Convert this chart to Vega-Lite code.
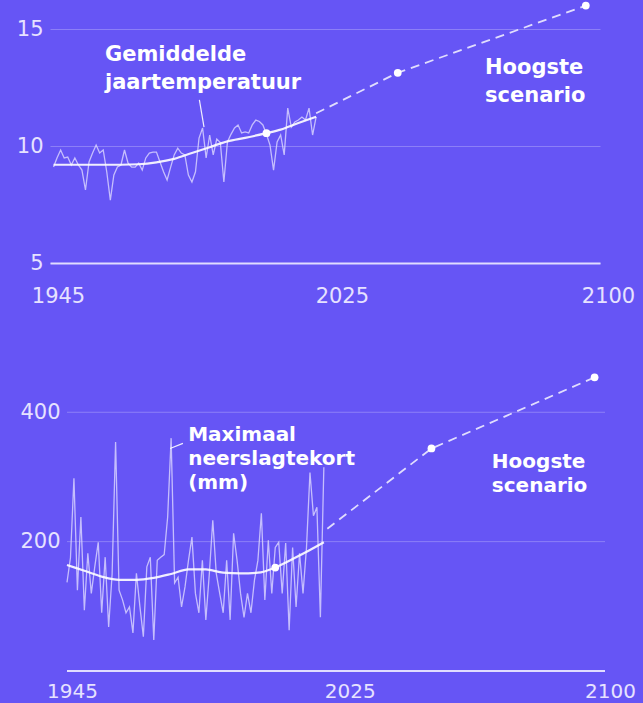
{
  "$schema": "https://vega.github.io/schema/vega-lite/v6.json",
  "background": "#6655f5",
  "padding": {"left": 0, "top": 0, "right": 12, "bottom": 12},
  "config": {
    "view": {"stroke": null},
    "axis": {
      "labelFont": "DejaVu Sans",
      "labelFontSize": 21,
      "labelColor": "#e6e2ff",
      "ticks": false,
      "gridColor": "#ffffff",
      "gridOpacity": 0.25,
      "gridWidth": 1,
      "domainColor": "#e0dcff",
      "domainWidth": 2
    }
  },
  "datasets": {
    "temp": [
      {"year": 1946, "value": 9.1}, {"year": 1947, "value": 9.5}, {"year": 1948, "value": 9.83}, {"year": 1949, "value": 9.49},
      {"year": 1950, "value": 9.53}, {"year": 1951, "value": 9.19}, {"year": 1952, "value": 9.49}, {"year": 1953, "value": 9.19},
      {"year": 1954, "value": 8.97}, {"year": 1955, "value": 8.12}, {"year": 1956, "value": 9.32}, {"year": 1957, "value": 9.7},
      {"year": 1958, "value": 10.04}, {"year": 1959, "value": 9.7}, {"year": 1960, "value": 9.83}, {"year": 1961, "value": 8.89},
      {"year": 1962, "value": 7.69}, {"year": 1963, "value": 8.76}, {"year": 1964, "value": 9.1}, {"year": 1965, "value": 9.19},
      {"year": 1966, "value": 9.83}, {"year": 1967, "value": 9.27}, {"year": 1968, "value": 9.1}, {"year": 1969, "value": 9.1},
      {"year": 1970, "value": 9.27}, {"year": 1971, "value": 8.97}, {"year": 1972, "value": 9.49}, {"year": 1973, "value": 9.7},
      {"year": 1974, "value": 9.74}, {"year": 1975, "value": 9.74}, {"year": 1976, "value": 9.32}, {"year": 1977, "value": 8.9},
      {"year": 1978, "value": 8.55}, {"year": 1979, "value": 9.1}, {"year": 1980, "value": 9.62}, {"year": 1981, "value": 9.91},
      {"year": 1982, "value": 9.7}, {"year": 1983, "value": 9.62}, {"year": 1984, "value": 8.76}, {"year": 1985, "value": 8.46},
      {"year": 1986, "value": 8.9}, {"year": 1987, "value": 10.34}, {"year": 1988, "value": 10.77}, {"year": 1989, "value": 9.49},
      {"year": 1990, "value": 10.47}, {"year": 1991, "value": 9.62}, {"year": 1992, "value": 10.3}, {"year": 1993, "value": 10.15},
      {"year": 1994, "value": 8.46}, {"year": 1995, "value": 10.17}, {"year": 1996, "value": 10.5}, {"year": 1997, "value": 10.77},
      {"year": 1998, "value": 10.9}, {"year": 1999, "value": 10.56}, {"year": 2000, "value": 10.6}, {"year": 2001, "value": 10.56},
      {"year": 2002, "value": 10.9}, {"year": 2003, "value": 11.11}, {"year": 2004, "value": 11.05}, {"year": 2005, "value": 10.9},
      {"year": 2006, "value": 10.5}, {"year": 2007, "value": 10.04}, {"year": 2008, "value": 8.97}, {"year": 2009, "value": 10.17},
      {"year": 2010, "value": 10.47}, {"year": 2011, "value": 9.62}, {"year": 2012, "value": 11.62}, {"year": 2013, "value": 10.81},
      {"year": 2014, "value": 11.03}, {"year": 2015, "value": 11.11}, {"year": 2016, "value": 11.24}, {"year": 2017, "value": 11.11},
      {"year": 2018, "value": 11.62}, {"year": 2019, "value": 10.47}, {"year": 2020, "value": 11.24}
    ],
    "tempSmooth": [
      {"year": 1946, "value": 9.2}, {"year": 1955, "value": 9.2}, {"year": 1965, "value": 9.2}, {"year": 1970, "value": 9.22},
      {"year": 1975, "value": 9.3}, {"year": 1980, "value": 9.45}, {"year": 1985, "value": 9.7}, {"year": 1990, "value": 9.95},
      {"year": 1995, "value": 10.2}, {"year": 2000, "value": 10.35}, {"year": 2006, "value": 10.55}, {"year": 2010, "value": 10.7},
      {"year": 2015, "value": 10.98}, {"year": 2020, "value": 11.25}
    ],
    "tempProj": [
      {"year": 2020, "value": 11.4}, {"year": 2043, "value": 13.13}, {"year": 2096, "value": 16.0}
    ],
    "tempDots": [
      {"year": 2006, "value": 10.55}, {"year": 2043, "value": 13.13}, {"year": 2096, "value": 16.0}
    ],
    "tempLabels": [
      {"label": "Gemiddelde|jaartemperatuur", "year": 1960.5, "value": 14.36},
      {"label": "Hoogste|scenario", "year": 2067.6, "value": 13.8}
    ],
    "tempLeader": [
      {"year": 1987.1, "value": 11.97, "year2": 1988.4, "value2": 10.81}
    ],
    "drought": [
      {"year": 1945, "value": 137}, {"year": 1946, "value": 175}, {"year": 1947, "value": 298}, {"year": 1948, "value": 125},
      {"year": 1949, "value": 238}, {"year": 1950, "value": 94}, {"year": 1951, "value": 182}, {"year": 1952, "value": 120},
      {"year": 1953, "value": 161}, {"year": 1954, "value": 199}, {"year": 1955, "value": 90}, {"year": 1956, "value": 176},
      {"year": 1957, "value": 68}, {"year": 1958, "value": 150}, {"year": 1959, "value": 354}, {"year": 1960, "value": 125},
      {"year": 1961, "value": 110}, {"year": 1962, "value": 90}, {"year": 1963, "value": 99}, {"year": 1964, "value": 59},
      {"year": 1965, "value": 151}, {"year": 1966, "value": 100}, {"year": 1967, "value": 53}, {"year": 1968, "value": 161},
      {"year": 1969, "value": 176}, {"year": 1970, "value": 48}, {"year": 1971, "value": 171}, {"year": 1972, "value": 176},
      {"year": 1973, "value": 180}, {"year": 1974, "value": 238}, {"year": 1975, "value": 360}, {"year": 1976, "value": 136},
      {"year": 1977, "value": 145}, {"year": 1978, "value": 99}, {"year": 1979, "value": 130}, {"year": 1980, "value": 171},
      {"year": 1981, "value": 207}, {"year": 1982, "value": 120}, {"year": 1983, "value": 90}, {"year": 1984, "value": 171},
      {"year": 1985, "value": 79}, {"year": 1986, "value": 150}, {"year": 1987, "value": 233}, {"year": 1988, "value": 151},
      {"year": 1989, "value": 120}, {"year": 1990, "value": 90}, {"year": 1991, "value": 171}, {"year": 1992, "value": 79},
      {"year": 1993, "value": 213}, {"year": 1994, "value": 171}, {"year": 1995, "value": 120}, {"year": 1996, "value": 83},
      {"year": 1997, "value": 120}, {"year": 1998, "value": 90}, {"year": 1999, "value": 140}, {"year": 2000, "value": 171},
      {"year": 2001, "value": 244}, {"year": 2002, "value": 110}, {"year": 2003, "value": 202}, {"year": 2004, "value": 120},
      {"year": 2005, "value": 191}, {"year": 2006, "value": 199}, {"year": 2007, "value": 120}, {"year": 2008, "value": 198},
      {"year": 2009, "value": 63}, {"year": 2010, "value": 191}, {"year": 2011, "value": 99}, {"year": 2012, "value": 182},
      {"year": 2013, "value": 120}, {"year": 2014, "value": 191}, {"year": 2015, "value": 307}, {"year": 2016, "value": 240},
      {"year": 2017, "value": 253}, {"year": 2018, "value": 83}, {"year": 2019, "value": 315}
    ],
    "droughtSmooth": [
      {"year": 1945, "value": 164}, {"year": 1950, "value": 155}, {"year": 1955, "value": 146}, {"year": 1960, "value": 141},
      {"year": 1965, "value": 141}, {"year": 1970, "value": 144}, {"year": 1975, "value": 150}, {"year": 1980, "value": 157},
      {"year": 1985, "value": 157}, {"year": 1990, "value": 152}, {"year": 1995, "value": 151}, {"year": 2000, "value": 152},
      {"year": 2005, "value": 160}, {"year": 2010, "value": 173}, {"year": 2015, "value": 187}, {"year": 2019, "value": 199}
    ],
    "droughtProj": [
      {"year": 2020, "value": 220}, {"year": 2050, "value": 344}, {"year": 2097, "value": 454}
    ],
    "droughtDots": [
      {"year": 2005, "value": 160}, {"year": 2050, "value": 344}, {"year": 2097, "value": 454}
    ],
    "droughtLabels": [
      {"label": "Maximaal|neerslagtekort|(mm)", "year": 1979.9, "value": 380},
      {"label": "Hoogste|scenario", "year": 2067.4, "value": 338}
    ],
    "droughtLeader": [
      {"year": 1974.7, "value": 344, "year2": 1978.4, "value2": 352}
    ],
    "droughtGrid": [
      {"year": 1945, "year2": 2100, "value": 200}, {"year": 1945, "year2": 2100, "value": 400}
    ],
    "droughtBase": [
      {"year": 1945, "year2": 2100, "value": 0}
    ]
  },
  "concat": [
    {
      "width": 550,
      "height": 263,
      "encoding": {
        "x": {"field": "year", "type": "quantitative", "title": null,
          "scale": {"domain": [1945, 2100], "nice": false, "zero": false},
          "axis": {"values": [1945, 2025, 2100], "format": "d", "grid": false, "domain": true, "labelPadding": 22, "labelOffset": 8, "labelFlush": false, "labelOverlap": false, "labelBound": false}},
        "y": {"field": "value", "type": "quantitative", "title": null,
          "scale": {"domain": [5, 16.24], "nice": false, "zero": false},
          "axis": {"values": [5, 10, 15], "grid": true, "domain": false, "labelPadding": 7, "minExtent": 50}}
      },
      "layer": [
        {
          "data": {"name": "temp"},
          "mark": {"type": "line", "stroke": "#ddd8ff", "strokeWidth": 1.3, "strokeOpacity": 0.8}
        },
        {
          "data": {"name": "tempSmooth"},
          "mark": {"type": "line", "stroke": "#ffffff", "strokeWidth": 2.2, "strokeOpacity": 0.9, "interpolate": "monotone"}
        },
        {
          "data": {"name": "tempProj"},
          "mark": {"type": "line", "stroke": "#ffffff", "strokeWidth": 1.8, "strokeOpacity": 0.8, "strokeDash": [9, 6]}
        },
        {
          "data": {"name": "tempDots"},
          "mark": {"type": "circle", "color": "#ffffff", "opacity": 1, "size": 60}
        },
        {
          "data": {"name": "tempLeader"},
          "mark": {"type": "rule", "color": "#ffffff", "strokeWidth": 1.2, "opacity": 0.9},
          "encoding": {
            "x2": {"field": "year2"},
            "y2": {"field": "value2"}
          }
        },
        {
          "data": {"name": "tempLabels"},
          "mark": {"type": "text", "font": "DejaVu Sans", "fontWeight": "bold", "fontSize": 21, "color": "#ffffff", "align": "left", "baseline": "top", "lineBreak": "|", "lineHeight": 28},
          "encoding": {
            "text": {"field": "label"}
          }
        }
      ]
    },
    {
      "width": 555,
      "height": 304,
      "encoding": {
        "x": {"field": "year", "type": "quantitative", "title": null,
          "scale": {"domain": [1945, 2100], "range": [17, 555], "nice": false, "zero": false},
          "axis": {"values": [1945, 2025, 2100], "format": "d", "grid": false, "domain": false, "labelPadding": 10, "labelFontSize": 20, "labelOffset": 5, "labelFlush": false, "labelOverlap": false, "labelBound": false}},
        "y": {"field": "value", "type": "quantitative", "title": null,
          "scale": {"domain": [0, 470], "nice": false, "zero": false},
          "axis": {"values": [200, 400], "grid": false, "domain": false, "labelPadding": 7, "offset": -17}}
      },
      "layer": [
        {
          "data": {"name": "droughtGrid"},
          "mark": {"type": "rule", "color": "#ffffff", "strokeWidth": 1, "opacity": 0.25},
          "encoding": {
            "x2": {"field": "year2"}
          }
        },
        {
          "data": {"name": "droughtBase"},
          "mark": {"type": "rule", "color": "#e0dcff", "strokeWidth": 2, "opacity": 1},
          "encoding": {
            "x2": {"field": "year2"}
          }
        },
        {
          "data": {"name": "drought"},
          "mark": {"type": "line", "stroke": "#ddd8ff", "strokeWidth": 1.3, "strokeOpacity": 0.8}
        },
        {
          "data": {"name": "droughtSmooth"},
          "mark": {"type": "line", "stroke": "#ffffff", "strokeWidth": 2.2, "strokeOpacity": 0.9, "interpolate": "monotone"}
        },
        {
          "data": {"name": "droughtProj"},
          "mark": {"type": "line", "stroke": "#ffffff", "strokeWidth": 1.8, "strokeOpacity": 0.8, "strokeDash": [9, 6]}
        },
        {
          "data": {"name": "droughtDots"},
          "mark": {"type": "circle", "color": "#ffffff", "opacity": 1, "size": 60}
        },
        {
          "data": {"name": "droughtLeader"},
          "mark": {"type": "rule", "color": "#ffffff", "strokeWidth": 1.2, "opacity": 0.9},
          "encoding": {
            "x2": {"field": "year2"},
            "y2": {"field": "value2"}
          }
        },
        {
          "data": {"name": "droughtLabels"},
          "mark": {"type": "text", "font": "DejaVu Sans", "fontWeight": "bold", "fontSize": 20, "color": "#ffffff", "align": "left", "baseline": "top", "lineBreak": "|", "lineHeight": 24},
          "encoding": {
            "text": {"field": "label"}
          }
        }
      ]
    }
  ],
  "columns": 1,
  "spacing": 61
}
